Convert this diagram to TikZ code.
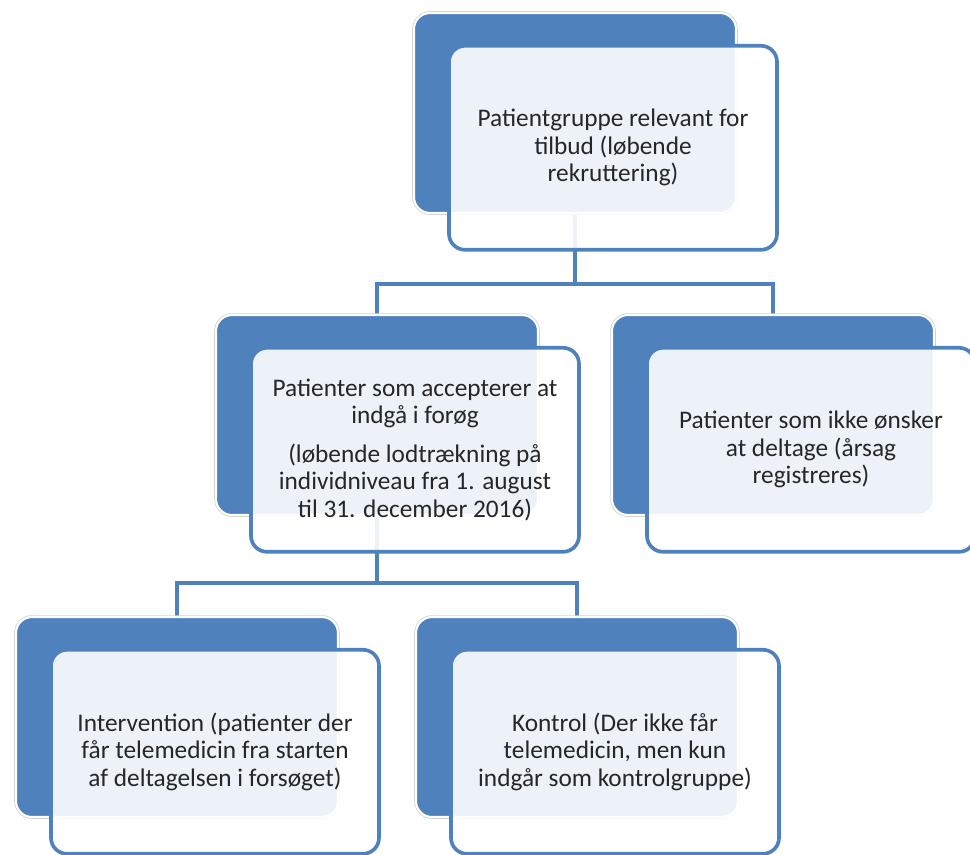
\documentclass[tikz,border=0pt]{standalone}
\usepackage{fontspec}
\setmainfont{Carlito}
\usepackage{tikz}
\usetikzlibrary{shapes,arrows,positioning,backgrounds}
\definecolor{smartblue}{HTML}{4F81BD}

\begin{document}
\begin{tikzpicture}[auto, node distance=7.55cm]
    \tikzstyle{back} = [rectangle, fill=smartblue, draw=white, line width=1.5pt, preaction={draw=black!20, line width=2.5pt}, rounded corners=0.4cm, minimum width=8.05cm, minimum height=5cm]
    \tikzstyle{front} = [rectangle, draw=smartblue, line width=2.6pt, fill=white, fill opacity=0.9, text opacity=1, text=black!85, rounded corners=0.4cm, minimum width=8.2cm, minimum height=5.1cm, align=center, font=\fontsize{18}{19.6}\selectfont, xshift=0.95cm, yshift=-0.87cm]
    \tikzstyle{line} = [draw, smartblue, line width=2.8pt]

    \useasboundingbox (0,0) rectangle (24.25,-21.35);

    % Patientgruppe
    \node [back] (gruppe) at (14.375,-2.825) {};
    \node [front] (gruppetxt) at (gruppe) {Patientgruppe relevant for\\tilbud (løbende\\rekruttering)};

    % Patienter som accepterer
    \node [back, below of=gruppe, xshift=-4.95cm] (accept) {};
    \node [front] (accepttxt) at (accept) {Patienter som accepterer at\\indgå i forøg\\[8pt](løbende lodtrækning på\\individniveau fra 1. august\\til 31. december 2016)};

    % Patienter som ikke deltager
    \node [back, below of=gruppe, xshift=4.95cm] (ikke) {};
    \node [front] (ikketxt) at (ikke) {Patienter som ikke ønsker\\at deltage (årsag\\registreres)};

    % Intervention
    \node [back, below of=accept, xshift=-5cm] (interv) {};
    \node [front] (intervtxt) at (interv) {Intervention (patienter der\\får telemedicin fra starten\\af deltagelsen i forsøget)};

    % Kontrol
    \node [back, below of=accept, xshift=5cm] (kontrol) {};
    \node [front] (kontroltxt) at (kontrol) {Kontrol (Der ikke får\\telemedicin, men kun\\indgår som kontrolgruppe)};

    % Lines
    \begin{scope}[on background layer]
    \path [line] (gruppe.center) -- ++(0,-4.275) -| (accept.center);
    \path [line] (gruppe.center) -- ++(0,-4.275) -| (ikke.center);
    \path [line] (accept.center) -- ++(0,-4.2) -| (interv.center);
    \path [line] (accept.center) -- ++(0,-4.2) -| (kontrol.center);
    \end{scope}

\end{tikzpicture}
\end{document}
